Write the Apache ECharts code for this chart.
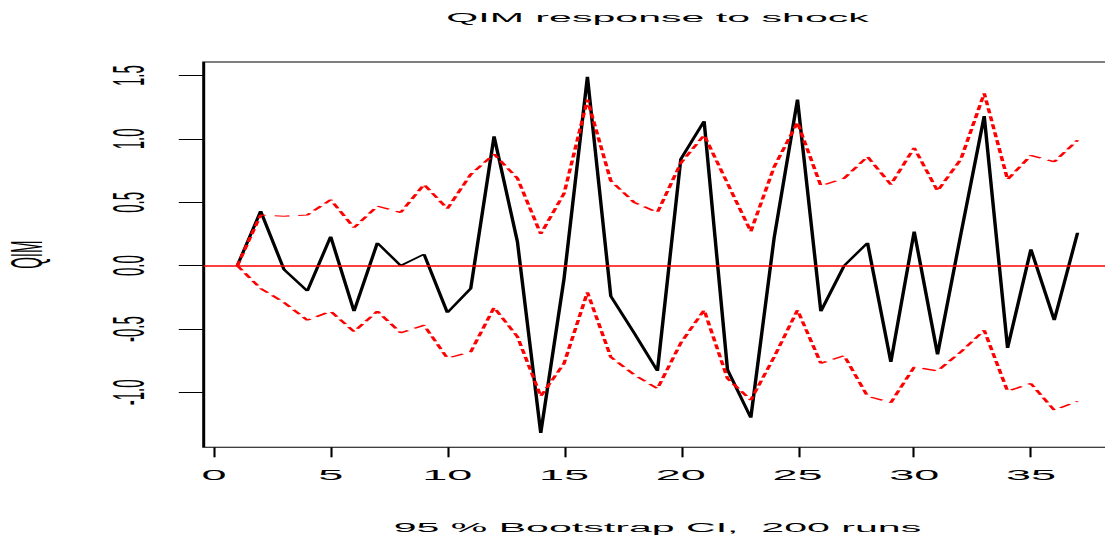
<!DOCTYPE html>
<html>
<head>
<meta charset="utf-8">
<script src="https://cdn.jsdelivr.net/npm/echarts@6/dist/echarts.min.js"></script>
<style>
  html, body { margin: 0; padding: 0; background: #fff; overflow: hidden; width: 1105px; height: 541px; }
  /* the chart is laid out narrow and then widened 3x horizontally */
  #chart { width: 372px; height: 541px; transform: scale(3, 1); transform-origin: 0 0; }
</style>
</head>
<body>
<div id="chart"></div>
<script>
// impulse response horizon
const steps = [1, 2, 3, 4, 5, 6, 7, 8, 9, 10, 11, 12, 13, 14, 15, 16, 17, 18, 19,
  20, 21, 22, 23, 24, 25, 26, 27, 28, 29, 30, 31, 32, 33, 34, 35, 36, 37];

// point estimate of the QIM response
const response = [0, 0.43, -0.03, -0.20, 0.23, -0.36, 0.18, 0.00, 0.09, -0.37, -0.18,
  1.02, 0.19, -1.32, -0.10, 1.49, -0.24, -0.53, -0.83, 0.84, 1.14, -0.82, -1.20,
  0.22, 1.31, -0.36, 0.00, 0.18, -0.76, 0.27, -0.70, 0.25, 1.18, -0.65, 0.13, -0.43, 0.26];

// 95 % bootstrap band
const upperCI = [0, 0.40, 0.39, 0.40, 0.52, 0.30, 0.47, 0.42, 0.64, 0.45, 0.72,
  0.88, 0.69, 0.25, 0.57, 1.31, 0.67, 0.50, 0.42, 0.81, 1.03, 0.65, 0.27,
  0.78, 1.13, 0.63, 0.69, 0.86, 0.64, 0.93, 0.59, 0.84, 1.36, 0.68, 0.87, 0.82, 0.99];
const lowerCI = [0, -0.18, -0.29, -0.43, -0.36, -0.52, -0.36, -0.53, -0.47, -0.73, -0.68,
  -0.33, -0.56, -1.03, -0.77, -0.21, -0.72, -0.86, -0.97, -0.61, -0.35, -0.89, -1.06,
  -0.72, -0.35, -0.77, -0.71, -1.03, -1.08, -0.80, -0.83, -0.68, -0.51, -0.99, -0.93, -1.14, -1.07];

// axis ticks
const xTicks = [0, 5, 10, 15, 20, 25, 30, 35];
const yTicks = [-1, -0.5, 0, 0.5, 1, 1.5];

const RED = '#ff0000';
const FONT = "'Liberation Sans', Arial, Helvetica, sans-serif";
const pairs = vals => steps.map((s, i) => [s, vals[i]]);

const chart = echarts.init(document.getElementById('chart'), null, { renderer: 'svg' });

chart.setOption({
  animation: false,
  backgroundColor: '#fff',
  title: {
    text: 'QIM response to shock',
    left: 219.2, top: 10.2, padding: 0, textAlign: 'center',
    textStyle: { fontFamily: FONT, fontSize: 13.7, fontWeight: 'normal', color: '#000' }
  },
  grid: {
    left: 67.9, right: 1.6, top: 62, bottom: 93.7,
    show: true, borderColor: '#000', borderWidth: 1,
    containLabel: false, outerBoundsMode: 'none'
  },
  xAxis: {
    type: 'value', min: -0.44, max: 38.44, position: 'bottom',
    axisLine: { show: false, onZero: false },
    splitLine: { show: false },
    axisTick: { show: true, customValues: xTicks, length: 10, lineStyle: { color: '#000', width: 0.7 } },
    axisLabel: { customValues: xTicks, margin: 20.5, fontFamily: FONT, fontSize: 15, color: '#000' },
    name: '95 % Bootstrap CI,  200 runs', nameLocation: 'middle', nameGap: 72.9,
    nameTextStyle: { fontFamily: FONT, fontSize: 13.7, color: '#000' }
  },
  yAxis: {
    type: 'value', min: -1.433, max: 1.607, position: 'left',
    axisLine: { show: false, onZero: false },
    splitLine: { show: false },
    axisTick: { show: true, customValues: yTicks, length: 8.3, lineStyle: { color: '#000', width: 1 } },
    axisLabel: {
      customValues: yTicks, rotate: 90, margin: 17.5,
      formatter: v => Number(v).toFixed(1),
      fontFamily: FONT, fontSize: 15, color: '#000'
    },
    name: 'QIM', nameLocation: 'middle', nameRotate: 90, nameGap: 51.5,
    nameTextStyle: { fontFamily: FONT, fontSize: 15, color: '#000' }
  },
  series: [
    { name: 'QIM', type: 'line', data: pairs(response), symbol: 'none',
      lineStyle: { color: '#000', width: 1.15 }, z: 2 },
    { name: 'Upper', type: 'line', data: pairs(upperCI), symbol: 'none',
      lineStyle: { color: RED, width: 1.2, type: [5, 3] }, z: 3 },
    { name: 'Lower', type: 'line', data: pairs(lowerCI), symbol: 'none',
      lineStyle: { color: RED, width: 1.2, type: [5, 3] }, z: 3,
      // horizontal reference line at zero
      markLine: {
        silent: true, symbol: ['none', 'none'], label: { show: false },
        lineStyle: { color: RED, width: 1.6, type: 'solid' },
        data: [{ yAxis: 0 }]
      }
    }
  ]
});
</script>
</body>
</html>
